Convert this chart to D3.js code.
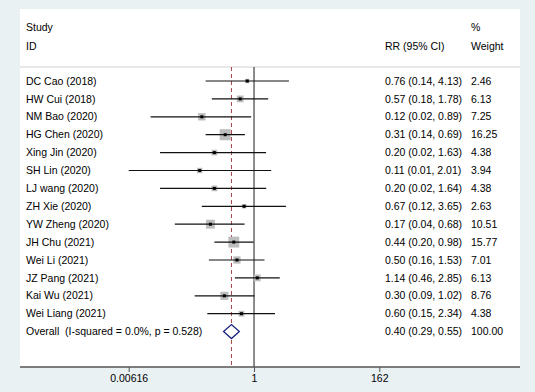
<!DOCTYPE html>
<html>
<head>
<meta charset="utf-8">
<script src="https://cdn.jsdelivr.net/npm/d3@7"></script>
<style>
  body { margin: 0; background: #e9f1f3; }
  svg { display: block; }
  text { font-family: "Liberation Sans", Arial, sans-serif; font-size: 10.5px; fill: #000; white-space: pre; }
</style>
</head>
<body>
<svg id="chart" width="535" height="392"></svg>
<script>
const studies = ["DC Cao (2018)", "HW Cui (2018)", "NM Bao (2020)", "HG Chen (2020)", "Xing Jin (2020)",
  "SH Lin (2020)", "LJ wang (2020)", "ZH Xie (2020)", "YW Zheng (2020)", "JH Chu (2021)",
  "Wei Li (2021)", "JZ Pang (2021)", "Kai Wu (2021)", "Wei Liang (2021)"];
const rr =      [0.76, 0.57, 0.12, 0.31, 0.20, 0.11, 0.20, 0.67, 0.17, 0.44, 0.50, 1.14, 0.30, 0.60];
const lower =   [0.14, 0.18, 0.015, 0.14, 0.022, 0.00616, 0.022, 0.12, 0.04, 0.20, 0.16, 0.46, 0.09, 0.15];
const upper =   [4.13, 1.78, 0.89, 0.69, 1.63, 2.01, 1.64, 3.65, 0.68, 0.98, 1.53, 2.85, 1.02, 2.34];
const weights = [2.46, 6.13, 7.25, 16.25, 4.38, 3.94, 4.38, 2.63, 10.51, 15.77, 7.01, 6.13, 8.76, 4.38];
const ciText = ["0.76 (0.14, 4.13)", "0.57 (0.18, 1.78)", "0.12 (0.02, 0.89)", "0.31 (0.14, 0.69)",
  "0.20 (0.02, 1.63)", "0.11 (0.01, 2.01)", "0.20 (0.02, 1.64)", "0.67 (0.12, 3.65)", "0.17 (0.04, 0.68)",
  "0.44 (0.20, 0.98)", "0.50 (0.16, 1.53)", "1.14 (0.46, 2.85)", "0.30 (0.09, 1.02)", "0.60 (0.15, 2.34)"];
const weightText = ["2.46", "6.13", "7.25", "16.25", "4.38", "3.94", "4.38", "2.63", "10.51", "15.77",
  "7.01", "6.13", "8.76", "4.38"];
const overall = { label: "Overall  (I-squared = 0.0%, p = 0.528)", rr: 0.40, lo: 0.29, hi: 0.55,
  ci: "0.40 (0.29, 0.55)", w: "100.00" };
const tickValues = [0.00616, 1, 162];
const tickLabels = ["0.00616", "1", "162"];

const svg = d3.select("#chart");
const panel = { left: 20, right: 520, top: 9, bottom: 367 };
const rowTop = 81, rowStep = 17.9, lineTop = 67;

const x = d3.scaleLog().domain([0.00616, 162]).range([128.7, 379.3]);
const y = i => rowTop + rowStep * i;

svg.append("rect")
  .attr("x", panel.left).attr("y", panel.top)
  .attr("width", panel.right - panel.left).attr("height", panel.bottom - panel.top)
  .attr("fill", "#fff");

// header
svg.append("text").attr("x", 26).attr("y", 27).attr("dy", "0.35em").text("Study");
svg.append("text").attr("x", 26).attr("y", 46).attr("dy", "0.35em").text("ID");
svg.append("text").attr("x", 385).attr("y", 46).attr("dy", "0.35em").text("RR (95% CI)");
svg.append("text").attr("x", 471).attr("y", 27).attr("dy", "0.35em").text("%");
svg.append("text").attr("x", 471).attr("y", 46).attr("dy", "0.35em").text("Weight");

svg.append("line")
  .attr("x1", panel.left).attr("x2", panel.right)
  .attr("y1", lineTop).attr("y2", lineTop)
  .attr("stroke", "#cfcfcf").attr("stroke-width", 1);

// reference lines
svg.append("line")
  .attr("x1", x(1)).attr("x2", x(1))
  .attr("y1", lineTop).attr("y2", panel.bottom)
  .attr("stroke", "#666").attr("stroke-width", 1.5);

svg.append("line")
  .attr("x1", x(overall.rr)).attr("x2", x(overall.rr))
  .attr("y1", lineTop).attr("y2", panel.bottom)
  .attr("stroke", "#a8434d").attr("stroke-width", 1)
  .attr("stroke-dasharray", "4,3");

// study rows
const rows = svg.append("g").selectAll("g")
  .data(studies.map((s, i) => ({ s, i, rr: rr[i], lo: lower[i], hi: upper[i], w: weights[i] })))
  .enter().append("g");

rows.append("rect")
  .attr("x", d => x(d.rr) - Math.sqrt(d.w) * 1.37)
  .attr("y", d => y(d.i) - Math.sqrt(d.w) * 1.37)
  .attr("width", d => Math.sqrt(d.w) * 2.74)
  .attr("height", d => Math.sqrt(d.w) * 2.74)
  .attr("fill", "#bdbdbd");

rows.append("line")
  .attr("x1", d => x(d.lo)).attr("x2", d => x(d.hi))
  .attr("y1", d => y(d.i)).attr("y2", d => y(d.i))
  .attr("stroke", "#111").attr("stroke-width", 1.2);

rows.append("rect")
  .attr("x", d => x(d.rr) - 1.5).attr("y", d => y(d.i) - 1.5)
  .attr("width", 3).attr("height", 3)
  .attr("fill", "#000");

rows.append("text").attr("x", 26).attr("y", d => y(d.i)).attr("dy", "0.35em").text(d => d.s);
rows.append("text").attr("x", 385).attr("y", d => y(d.i)).attr("dy", "0.35em").text(d => ciText[d.i]);
rows.append("text").attr("x", 471).attr("y", d => y(d.i)).attr("dy", "0.35em").text(d => weightText[d.i]);

// overall
const oy = y(studies.length);
svg.append("path")
  .attr("d", `M${x(overall.lo)},${oy}L${x(overall.rr)},${oy - 7}L${x(overall.hi)},${oy}L${x(overall.rr)},${oy + 7}Z`)
  .attr("fill", "#fff").attr("stroke", "#1a237e").attr("stroke-width", 1.3);
svg.append("text").attr("x", 26).attr("y", oy).attr("dy", "0.35em").text(overall.label);
svg.append("text").attr("x", 385).attr("y", oy).attr("dy", "0.35em").text(overall.ci);
svg.append("text").attr("x", 471).attr("y", oy).attr("dy", "0.35em").text(overall.w);

// x axis
const axis = svg.append("g")
  .attr("transform", `translate(0,${panel.bottom})`)
  .call(d3.axisBottom(x).tickValues(tickValues).tickFormat((d, i) => tickLabels[i]).tickSize(5).tickSizeOuter(0));
axis.select(".domain").remove();
axis.selectAll(".tick line").attr("stroke", "#555");
axis.selectAll(".tick text").attr("font-size", null).attr("font-family", null).attr("fill", "#000")
  .attr("y", 8).attr("dy", "0.71em");

svg.append("line")
  .attr("x1", panel.left).attr("x2", panel.right)
  .attr("y1", panel.bottom).attr("y2", panel.bottom)
  .attr("stroke", "#555").attr("stroke-width", 1.5);
</script>
</body>
</html>
